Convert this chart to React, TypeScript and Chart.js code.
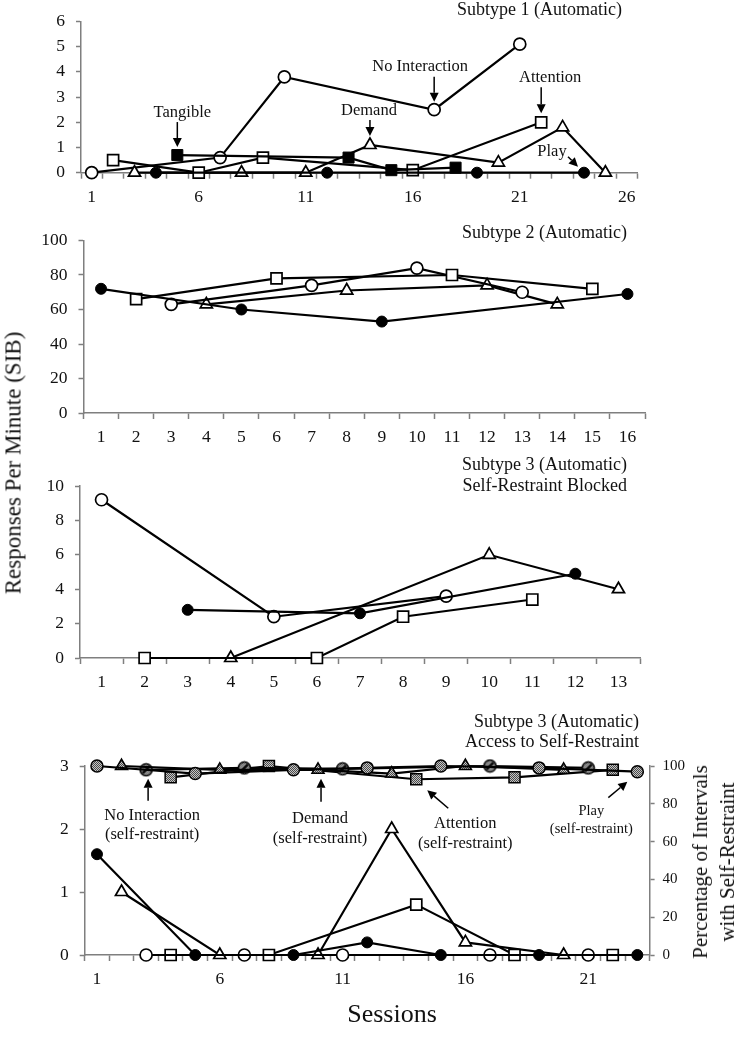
import React, { useEffect, useRef } from "react";
import { Chart, registerables } from "chart.js";
Chart.register(...registerables);

// ---------- Panel 1: Subtype 1 (Automatic) ----------
const p1XTickLabels = [1, 6, 11, 16, 21, 26];
const p1YTickLabels = [0, 1, 2, 3, 4, 5, 6];
const p1NoInteractionX = [1, 7, 10, 17, 21];
const p1NoInteractionY = [0, 0.6, 3.8, 2.5, 5.1];
const p1AttentionX = [2, 6, 9, 16, 22];
const p1AttentionY = [0.5, 0, 0.6, 0.1, 2.0];
const p1TangibleX = [5, 13, 15, 18];
const p1TangibleY = [0.7, 0.6, 0.1, 0.2];
const p1DemandX = [3, 8, 11, 14, 20, 23, 25];
const p1DemandY = [0, 0, 0, 1.1, 0.4, 1.8, 0];
const p1PlayX = [4, 12, 19, 24];
const p1PlayY = [0, 0, 0, 0];

// ---------- Panel 2: Subtype 2 (Automatic) ----------
const p2XTickLabels = [1, 2, 3, 4, 5, 6, 7, 8, 9, 10, 11, 12, 13, 14, 15, 16];
const p2YTickLabels = [0, 20, 40, 60, 80, 100];
const p2PlayX = [1, 5, 9, 16];
const p2PlayY = [72, 60, 53, 69];
const p2AttentionX = [2, 6, 11, 15];
const p2AttentionY = [66, 78, 80, 72];
const p2NoInteractionX = [3, 7, 10, 13];
const p2NoInteractionY = [63, 74, 84, 70];
const p2DemandX = [4, 8, 12, 14];
const p2DemandY = [63, 71, 74, 63];

// ---------- Panel 3: Subtype 3, self-restraint blocked ----------
const p3XTickLabels = [1, 2, 3, 4, 5, 6, 7, 8, 9, 10, 11, 12, 13];
const p3YTickLabels = [0, 2, 4, 6, 8, 10];
const p3NoInteractionX = [1, 5, 9];
const p3NoInteractionY = [9.2, 2.4, 3.6];
const p3AttentionX = [2, 6, 8, 11];
const p3AttentionY = [0, 0, 2.4, 3.4];
const p3PlayX = [3, 7, 12];
const p3PlayY = [2.8, 2.6, 4.9];
const p3DemandX = [4, 10, 13];
const p3DemandY = [0, 6, 4];

// ---------- Panel 4: Subtype 3, access to self-restraint ----------
const p4XTickLabels = [1, 6, 11, 16, 21];
const p4YTickLabels = [0, 1, 2, 3];
const p4Y2TickLabels = [0, 20, 40, 60, 80, 100];
const p4PlayX = [1, 5, 9, 12, 15, 19, 23];
const p4PlayY = [1.6, 0, 0, 0.2, 0, 0, 0];
const p4DemandX = [2, 6, 10, 13, 16, 20];
const p4DemandY = [1.0, 0, 0, 2.0, 0.2, 0];
const p4NoInteractionX = [3, 7, 11, 17, 21];
const p4NoInteractionY = [0, 0, 0, 0, 0];
const p4AttentionX = [4, 8, 14, 18, 22];
const p4AttentionY = [0, 0, 0.8, 0, 0];
const p4PlaySRPct = [100, 96, 98, 99, 100, 99, 97];
const p4DemandSRPct = [100, 98, 98, 96, 100, 98];
const p4NoInteractionSRPct = [98, 99, 98.5, 100, 99];
const p4AttentionSRPct = [94, 100, 93, 94, 98];

const FONT = "'Liberation Serif', 'Times New Roman', Times, serif";
const AXIS_GRAY = "#7f7f7f";
const W = 737;

const openCircle = { pointStyle: "circle", pointRadius: 6, pointBackgroundColor: "#fff", pointBorderColor: "#000", pointBorderWidth: 1.7 };
const filledCircle = { pointStyle: "circle", pointRadius: 5.5, pointBackgroundColor: "#000", pointBorderColor: "#000", pointBorderWidth: 1 };
const openSquare = { pointStyle: "rect", pointRadius: 7.8, pointBackgroundColor: "#fff", pointBorderColor: "#000", pointBorderWidth: 1.7 };
const filledSquare = { pointStyle: "rect", pointRadius: 7.8, pointBackgroundColor: "#000", pointBorderColor: "#000", pointBorderWidth: 1 };
const openTriangle = { pointStyle: "triangle", pointRadius: 7, pointBackgroundColor: "#fff", pointBorderColor: "#000", pointBorderWidth: 1.7 };

function series(xs: number[], ys: number[], style: any, yAxisID = "y") {
  return {
    data: xs.map((x, i) => ({ x, y: ys[i] })),
    showLine: true,
    borderColor: "#000",
    borderWidth: 2.2,
    tension: 0,
    fill: false,
    clip: false,
    yAxisID,
    pointHoverRadius: style.pointRadius,
    ...style,
  };
}

function drawArrow(ctx: CanvasRenderingContext2D, x1: number, y1: number, x2: number, y2: number) {
  const ang = Math.atan2(y2 - y1, x2 - x1);
  const hl = 9, hw = 4.5;
  const bx = x2 - hl * Math.cos(ang), by = y2 - hl * Math.sin(ang);
  ctx.save();
  ctx.strokeStyle = "#000";
  ctx.fillStyle = "#000";
  ctx.lineWidth = 1.5;
  ctx.beginPath();
  ctx.moveTo(x1, y1);
  ctx.lineTo(bx, by);
  ctx.stroke();
  ctx.beginPath();
  ctx.moveTo(x2, y2);
  ctx.lineTo(bx + hw * Math.sin(ang), by - hw * Math.cos(ang));
  ctx.lineTo(bx - hw * Math.sin(ang), by + hw * Math.cos(ang));
  ctx.closePath();
  ctx.fill();
  ctx.restore();
}

const annotPlugin = {
  id: "annot",
  afterDatasetsDraw(chart: any, _args: any, opts: any) {
    const ctx: CanvasRenderingContext2D = chart.ctx;
    ctx.save();
    ctx.fillStyle = "#111";
    (opts.titles || []).forEach((t: any) => {
      ctx.font = `${t.size}px ${FONT}`;
      ctx.textAlign = "right";
      ctx.textBaseline = "middle";
      t.lines.forEach((l: string, i: number) => ctx.fillText(l, t.x, t.y + i * t.gap));
    });
    (opts.anns || []).forEach((a: any) => {
      const px = chart.scales.x.getPixelForValue(a.x);
      const py = chart.scales[a.axis || "y"].getPixelForValue(a.y);
      ctx.font = `${a.size}px ${FONT}`;
      ctx.textAlign = "center";
      ctx.textBaseline = "middle";
      ctx.fillStyle = "#111";
      a.lines.forEach((l: string, i: number) => ctx.fillText(l, px + a.tdx, py + a.tdy + i * (a.gap || 0)));
      drawArrow(ctx, px + a.arrow[0], py + a.arrow[1], px + a.arrow[2], py + a.arrow[3]);
    });
    ctx.restore();
  },
};

function buildConfig(cfg: any) {
  const { top, height, area, xMax, xLabels, y, y2, datasets, titles, anns } = cfg;
  const xH = top + height - area.bottom;
  const isHalf = (v: number) => Math.abs(v - Math.round(v)) > 0.25;
  const scales: any = {
    x: {
      type: "linear",
      min: 0.5,
      max: xMax + 0.5,
      afterFit: (s: any) => { s.height = xH; },
      border: { color: AXIS_GRAY, width: 1.5 },
      grid: {
        drawOnChartArea: false,
        drawTicks: true,
        tickLength: 6,
        tickWidth: 1.5,
        tickColor: (c: any) => (c.tick && isHalf(c.tick.value) ? AXIS_GRAY : "rgba(0,0,0,0)"),
      },
      ticks: {
        stepSize: 0.5,
        autoSkip: false,
        maxRotation: 0,
        minRotation: 0,
        padding: 8,
        color: "#111",
        font: { family: FONT, size: 17.5 },
        callback: (v: number) => (xLabels.includes(v) ? String(v) : ""),
      },
    },
    y: {
      type: "linear",
      position: "left",
      min: y.min,
      max: y.max,
      afterFit: (s: any) => { s.width = area.left; },
      border: { color: AXIS_GRAY, width: 1.5 },
      grid: { drawOnChartArea: false, drawTicks: true, tickLength: 5, tickWidth: 1.5, tickColor: AXIS_GRAY },
      ticks: {
        stepSize: y.step,
        autoSkip: false,
        padding: 11,
        color: "#111",
        font: { family: FONT, size: 17.5 },
        callback: (v: number) => (y.labels.includes(v) ? String(v) : ""),
      },
    },
  };
  if (y2) {
    scales.y2 = {
      type: "linear",
      position: "right",
      min: y2.min,
      max: y2.max,
      afterFit: (s: any) => { s.width = W - area.right; },
      border: { color: AXIS_GRAY, width: 1.5 },
      grid: { drawOnChartArea: false, drawTicks: true, tickLength: 5, tickWidth: 1.5, tickColor: AXIS_GRAY },
      ticks: {
        stepSize: y2.step,
        autoSkip: false,
        padding: 8,
        color: "#111",
        font: { family: FONT, size: 15 },
        callback: (v: number) => (y2.labels.includes(v) ? String(v) : ""),
      },
    };
  }
  return {
    type: "scatter",
    data: { datasets },
    plugins: [annotPlugin],
    options: {
      responsive: false,
      animation: false,
      events: [],
      devicePixelRatio: 1,
      layout: {
        autoPadding: false,
        padding: { left: 0, top: area.top - top, right: y2 ? 0 : W - area.right, bottom: 0 },
      },
      scales,
      plugins: {
        legend: { display: false },
        tooltip: { enabled: false },
        title: { display: false },
        annot: { titles, anns },
      },
    },
  };
}

function makePatternMarkers() {
  const pc = document.createElement("canvas");
  pc.width = 2; pc.height = 2;
  const pctx = pc.getContext("2d")!;
  pctx.fillStyle = "#c4c4c4"; pctx.fillRect(0, 0, 2, 2);
  pctx.fillStyle = "#4a4a4a"; pctx.fillRect(0, 0, 1, 1); pctx.fillRect(1, 1, 1, 1);
  const pattern = pctx.createPattern(pc, "repeat")!;
  const slash = document.createElement("canvas");
  slash.width = 15; slash.height = 15;
  const s = slash.getContext("2d")!;
  s.beginPath(); s.arc(7.5, 7.5, 6, 0, Math.PI * 2);
  s.fillStyle = pattern; s.fill();
  s.lineWidth = 1.6; s.strokeStyle = "#000"; s.stroke();
  s.beginPath(); s.moveTo(4, 11); s.lineTo(11, 4); s.lineWidth = 2.2; s.stroke();
  return { pattern, slash };
}

const panels: any[] = [
  {
    top: 0, height: 212, area: { left: 81, right: 637.5, top: 7, bottom: 172.7 }, xMax: 26, xLabels: p1XTickLabels,
    y: { min: 0, max: 6, step: 1, labels: p1YTickLabels },
    datasets: () => [
      series(p1PlayX, p1PlayY, filledCircle),
      series(p1TangibleX, p1TangibleY, filledSquare),
      series(p1AttentionX, p1AttentionY, openSquare),
      series(p1DemandX, p1DemandY, openTriangle),
      series(p1NoInteractionX, p1NoInteractionY, openCircle),
    ],
    titles: [{ lines: ["Subtype 1 (Automatic)"], x: 622, y: 10, gap: 0, size: 18 }],
    anns: [
      { x: 5, y: 0.7, lines: ["Tangible"], tdx: 5, tdy: -42, size: 16.5, arrow: [0, -33, 0, -8] },
      { x: 17, y: 2.5, lines: ["No Interaction"], tdx: -14, tdy: -43, size: 16.5, arrow: [0, -33, 0, -8] },
      { x: 14, y: 1.1, lines: ["Demand"], tdx: -1, tdy: -34, size: 16.5, arrow: [0, -25, 0, -9] },
      { x: 22, y: 2.0, lines: ["Attention"], tdx: 9, tdy: -45, size: 16.5, arrow: [0, -35, 0, -9] },
      { x: 24, y: 0, lines: ["Play"], tdx: -32, tdy: -21, size: 16.5, arrow: [-16, -16, -6, -6] },
    ],
  },
  {
    top: 215, height: 235, area: { left: 83.5, right: 645, top: 240.5, bottom: 413 }, xMax: 16, xLabels: p2XTickLabels,
    y: { min: 0, max: 100, step: 20, labels: p2YTickLabels },
    datasets: () => [
      series(p2PlayX, p2PlayY, filledCircle),
      series(p2AttentionX, p2AttentionY, openSquare),
      series(p2NoInteractionX, p2NoInteractionY, openCircle),
      series(p2DemandX, p2DemandY, openTriangle),
    ],
    titles: [{ lines: ["Subtype 2 (Automatic)"], x: 627, y: 18, gap: 0, size: 18 }],
    anns: [],
  },
  {
    top: 450, height: 245, area: { left: 80, right: 640, top: 486, bottom: 658 }, xMax: 13, xLabels: p3XTickLabels,
    y: { min: 0, max: 10, step: 2, labels: p3YTickLabels },
    datasets: () => [
      series(p3PlayX, p3PlayY, filledCircle),
      series(p3AttentionX, p3AttentionY, openSquare),
      series(p3NoInteractionX, p3NoInteractionY, openCircle),
      series(p3DemandX, p3DemandY, openTriangle),
    ],
    titles: [{ lines: ["Subtype 3 (Automatic)", "Self-Restraint Blocked"], x: 627, y: 15, gap: 21, size: 18 }],
    anns: [],
  },
  {
    top: 700, height: 300, area: { left: 84.7, right: 649.6, top: 766, bottom: 955 }, xMax: 23, xLabels: p4XTickLabels,
    y: { min: 0, max: 3, step: 1, labels: p4YTickLabels },
    y2: { min: 0, max: 100, step: 20, labels: p4Y2TickLabels },
    datasets: () => {
      const { pattern, slash } = makePatternMarkers();
      const grayCircle = { pointStyle: "circle", pointRadius: 6, pointBackgroundColor: pattern, pointBorderColor: "#000", pointBorderWidth: 1.5 };
      const graySquare = { pointStyle: "rect", pointRadius: 7.8, pointBackgroundColor: pattern, pointBorderColor: "#000", pointBorderWidth: 1.5 };
      const grayTriangle = { pointStyle: "triangle", pointRadius: 7, pointBackgroundColor: pattern, pointBorderColor: "#000", pointBorderWidth: 1.5 };
      const slashCircle = { pointStyle: slash, pointRadius: 6 };
      return [
        series(p4PlayX, p4PlaySRPct, grayCircle, "y2"),
        series(p4DemandX, p4DemandSRPct, grayTriangle, "y2"),
        series(p4NoInteractionX, p4NoInteractionSRPct, slashCircle, "y2"),
        series(p4AttentionX, p4AttentionSRPct, graySquare, "y2"),
        series(p4PlayX, p4PlayY, filledCircle),
        series(p4NoInteractionX, p4NoInteractionY, openCircle),
        series(p4AttentionX, p4AttentionY, openSquare),
        series(p4DemandX, p4DemandY, openTriangle),
      ];
    },
    titles: [{ lines: ["Subtype 3 (Automatic)", "Access to Self-Restraint"], x: 639, y: 22, gap: 20, size: 18 }],
    anns: [
      { x: 3, y: 98, axis: "y2", lines: ["No Interaction", "(self-restraint)"], tdx: 6, tdy: 46, gap: 19, size: 16.5, arrow: [2, 31, 2, 9] },
      { x: 10, y: 98, axis: "y2", lines: ["Demand", "(self-restraint)"], tdx: 2, tdy: 49, gap: 20, size: 16.5, arrow: [3, 32, 3, 9] },
      { x: 14, y: 93, axis: "y2", lines: ["Attention", "(self-restraint)"], tdx: 49, tdy: 44, gap: 20, size: 16.5, arrow: [32, 29, 11, 11] },
      { x: 23, y: 97, axis: "y2", lines: ["Play", "(self-restraint)"], tdx: -46, tdy: 40, gap: 18, size: 14.5, arrow: [-29, 26, -10, 10] },
    ],
  },
];

function Panel({ cfg }: { cfg: any }) {
  const ref = useRef<HTMLCanvasElement>(null);
  useEffect(() => {
    const config: any = buildConfig({ ...cfg, datasets: cfg.datasets() });
    const chart = new Chart(ref.current as HTMLCanvasElement, config);
    return () => chart.destroy();
  }, []);
  return (
    <canvas
      ref={ref}
      width={W}
      height={cfg.height}
      style={{ position: "absolute", left: 0, top: cfg.top, width: W, height: cfg.height }}
    />
  );
}

export default function App() {
  const textBase: any = { position: "absolute", whiteSpace: "nowrap", fontFamily: FONT, color: "#111", lineHeight: 1 };
  return (
    <div style={{ position: "absolute", left: 0, top: 0, width: W, height: 1050, background: "#fff", overflow: "hidden" }}>
      {panels.map((p, i) => (
        <Panel key={i} cfg={p} />
      ))}
      <div style={{ ...textBase, left: 13, top: 463, fontSize: 23, transform: "translate(-50%, -50%) rotate(-90deg)" }}>
        Responses Per Minute (SIB)
      </div>
      <div style={{ ...textBase, left: 392, top: 1014, fontSize: 26, transform: "translate(-50%, -50%)" }}>Sessions</div>
      <div
        style={{
          ...textBase,
          left: 714,
          top: 862,
          fontSize: 21,
          lineHeight: "27px",
          textAlign: "center",
          transform: "translate(-50%, -50%) rotate(-90deg)",
        }}
      >
        Percentage of Intervals
        <br />
        with Self-Restraint
      </div>
    </div>
  );
}
